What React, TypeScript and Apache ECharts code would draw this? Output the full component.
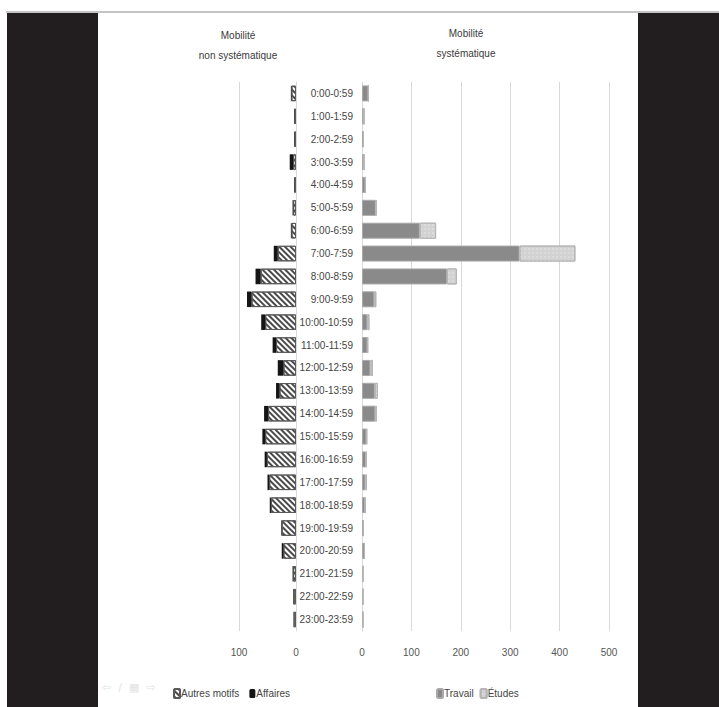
import React, { useEffect, useRef } from "react";
import * as echarts from "echarts";

const categories = [
  "0:00-0:59", "1:00-1:59", "2:00-2:59", "3:00-3:59", "4:00-4:59", "5:00-5:59",
  "6:00-6:59", "7:00-7:59", "8:00-8:59", "9:00-9:59", "10:00-10:59", "11:00-11:59",
  "12:00-12:59", "13:00-13:59", "14:00-14:59", "15:00-15:59", "16:00-16:59", "17:00-17:59",
  "18:00-18:59", "19:00-19:59", "20:00-20:59", "21:00-21:59", "22:00-22:59", "23:00-23:59",
];

const autresMotifs = [8, 3, 3, 5, 3, 5, 8, 32, 62, 78, 54, 35, 22, 29, 49, 54, 51, 47, 44, 25, 22, 5, 4, 4];
const affaires = [1, 0.5, 0.5, 6, 0.5, 1, 1, 7, 9, 8, 7, 6, 10, 6, 7, 5, 4, 3, 2, 1, 3, 1, 1, 0.5];
const travail = [13, 4, 3, 4, 7, 28, 117, 319, 172, 25, 11, 11, 17, 26, 27, 9, 8, 7, 6, 3, 5, 2, 2, 2];
const etudes = [0, 0, 0, 0, 0, 1, 33, 113, 20, 4, 4, 1, 5, 6, 3, 1, 1, 3, 1, 0, 0, 0, 0, 0];

const leftTicks = [0, 100];
const rightTicks = [0, 100, 200, 300, 400, 500];

const FONT = "Liberation Sans";
const DARK = "#221e1f";
const GRID_LINE = "#d9d9d9";

export default function App() {
  const ref = useRef<HTMLDivElement>(null);

  useEffect(() => {
    if (!ref.current) return;
    const chart = echarts.init(ref.current, null, { renderer: "svg" });
    const top = 82;
    const height = 549;

    const option: any = {
      animation: false,
      backgroundColor: "#ffffff",
      textStyle: { fontFamily: FONT },
      title: [
        {
          text: "Mobilité\nnon systématique",
          left: 238,
          top: 25,
          padding: 0,
          textAlign: "center",
          textStyle: { fontFamily: FONT, fontSize: 10, fontWeight: "normal", color: "#3a3a3a", lineHeight: 20 },
        },
        {
          text: "Mobilité\nsystématique",
          left: 466,
          top: 23,
          padding: 0,
          textAlign: "center",
          textStyle: { fontFamily: FONT, fontSize: 10, fontWeight: "normal", color: "#3a3a3a", lineHeight: 20 },
        },
      ],
      legend: [
        {
          data: ["Autres motifs", "Affaires"],
          left: 168,
          top: 683,
          itemWidth: 6,
          itemHeight: 9,
          itemGap: 10,
          textStyle: { fontFamily: FONT, fontSize: 10, color: "#444", padding: [0, 0, 0, -4] },
        },
        {
          data: ["Travail", "Études"],
          left: 431,
          top: 683,
          itemWidth: 6,
          itemHeight: 9,
          itemGap: 6,
          textStyle: { fontFamily: FONT, fontSize: 10, color: "#444", padding: [0, 0, 0, -4] },
        },
      ],
      grid: [
        { left: 239, width: 57, top, height, containLabel: false },
        { left: 362, width: 247, top, height, containLabel: false },
      ],
      xAxis: [
        {
          gridIndex: 0,
          type: "value",
          inverse: true,
          min: leftTicks[0],
          max: leftTicks[leftTicks.length - 1],
          interval: 100,
          axisLine: { show: false },
          axisTick: { show: false },
          splitLine: { show: true, lineStyle: { color: GRID_LINE, width: 1 } },
          axisLabel: { color: "#555", fontSize: 10, fontFamily: FONT, margin: 16 },
        },
        {
          gridIndex: 1,
          type: "value",
          min: rightTicks[0],
          max: rightTicks[rightTicks.length - 1],
          interval: 100,
          axisLine: { show: false },
          axisTick: { show: false },
          splitLine: { show: true, lineStyle: { color: GRID_LINE, width: 1 } },
          axisLabel: { color: "#555", fontSize: 10, fontFamily: FONT, margin: 16 },
        },
      ],
      yAxis: [
        {
          gridIndex: 0,
          type: "category",
          data: categories,
          inverse: true,
          position: "right",
          axisLine: { show: true, lineStyle: { color: GRID_LINE } },
          axisTick: { show: false },
          axisLabel: { show: false },
        },
        {
          gridIndex: 1,
          type: "category",
          data: categories,
          inverse: true,
          position: "left",
          axisLine: { show: true, lineStyle: { color: GRID_LINE } },
          axisTick: { show: false },
          axisLabel: { color: "#444", fontSize: 10, fontFamily: FONT, margin: 9 },
        },
      ],
      series: [
        {
          name: "Autres motifs",
          type: "bar",
          stack: "left",
          xAxisIndex: 0,
          yAxisIndex: 0,
          data: autresMotifs,
          barCategoryGap: "32%",
          itemStyle: {
            color: "#ffffff",
            borderColor: "#5a5a5a",
            borderWidth: 1,
            decal: {
              symbol: "rect",
              symbolSize: 1,
              rotation: Math.PI / 4,
              dashArrayX: [1, 0],
              dashArrayY: [1.5, 2],
              color: "#4a4a4a",
            },
          },
        },
        {
          name: "Affaires",
          type: "bar",
          stack: "left",
          xAxisIndex: 0,
          yAxisIndex: 0,
          data: affaires,
          barCategoryGap: "32%",
          itemStyle: { color: "#151515", borderColor: "#151515", borderWidth: 0 },
        },
        {
          name: "Travail",
          type: "bar",
          stack: "right",
          xAxisIndex: 1,
          yAxisIndex: 1,
          data: travail,
          barCategoryGap: "30%",
          itemStyle: { color: "#8a8a8a", borderColor: "#a9a9a9", borderWidth: 1 },
        },
        {
          name: "Études",
          type: "bar",
          stack: "right",
          xAxisIndex: 1,
          yAxisIndex: 1,
          data: etudes,
          barCategoryGap: "30%",
          itemStyle: {
            color: "#d2d2d2",
            borderColor: "#b5b5b5",
            borderWidth: 1,
            decal: {
              symbol: "rect",
              symbolSize: 0.6,
              dashArrayX: [2, 2],
              dashArrayY: [2, 2],
              color: "#f2f2f2",
            },
          },
        },
      ],
      graphic: [
        { type: "rect", shape: { x: 0, y: 0, width: 719, height: 12 }, style: { fill: "#ffffff" }, silent: true },
        { type: "line", shape: { x1: 6, y1: 12, x2: 719, y2: 12 }, style: { stroke: "#8a8a8a", lineWidth: 1 }, silent: true },
        { type: "rect", shape: { x: 7, y: 13, width: 91, height: 694 }, style: { fill: DARK }, silent: true },
        { type: "rect", shape: { x: 638, y: 13, width: 81, height: 694 }, style: { fill: DARK }, silent: true },
        {
          type: "text",
          left: 102,
          top: 682,
          style: { text: "⇦  ∕  ▦  ⇨", fill: "#e3e3e3", font: "11px 'DejaVu Sans'" },
          silent: true,
        },
      ],
    };

    chart.setOption(option);
    return () => chart.dispose();
  }, []);

  return (
    <div style={{ position: "absolute", left: 0, top: 0, width: 719, height: 707, background: "#fff" }}>
      <div ref={ref} style={{ width: 719, height: 707 }} />
    </div>
  );
}
